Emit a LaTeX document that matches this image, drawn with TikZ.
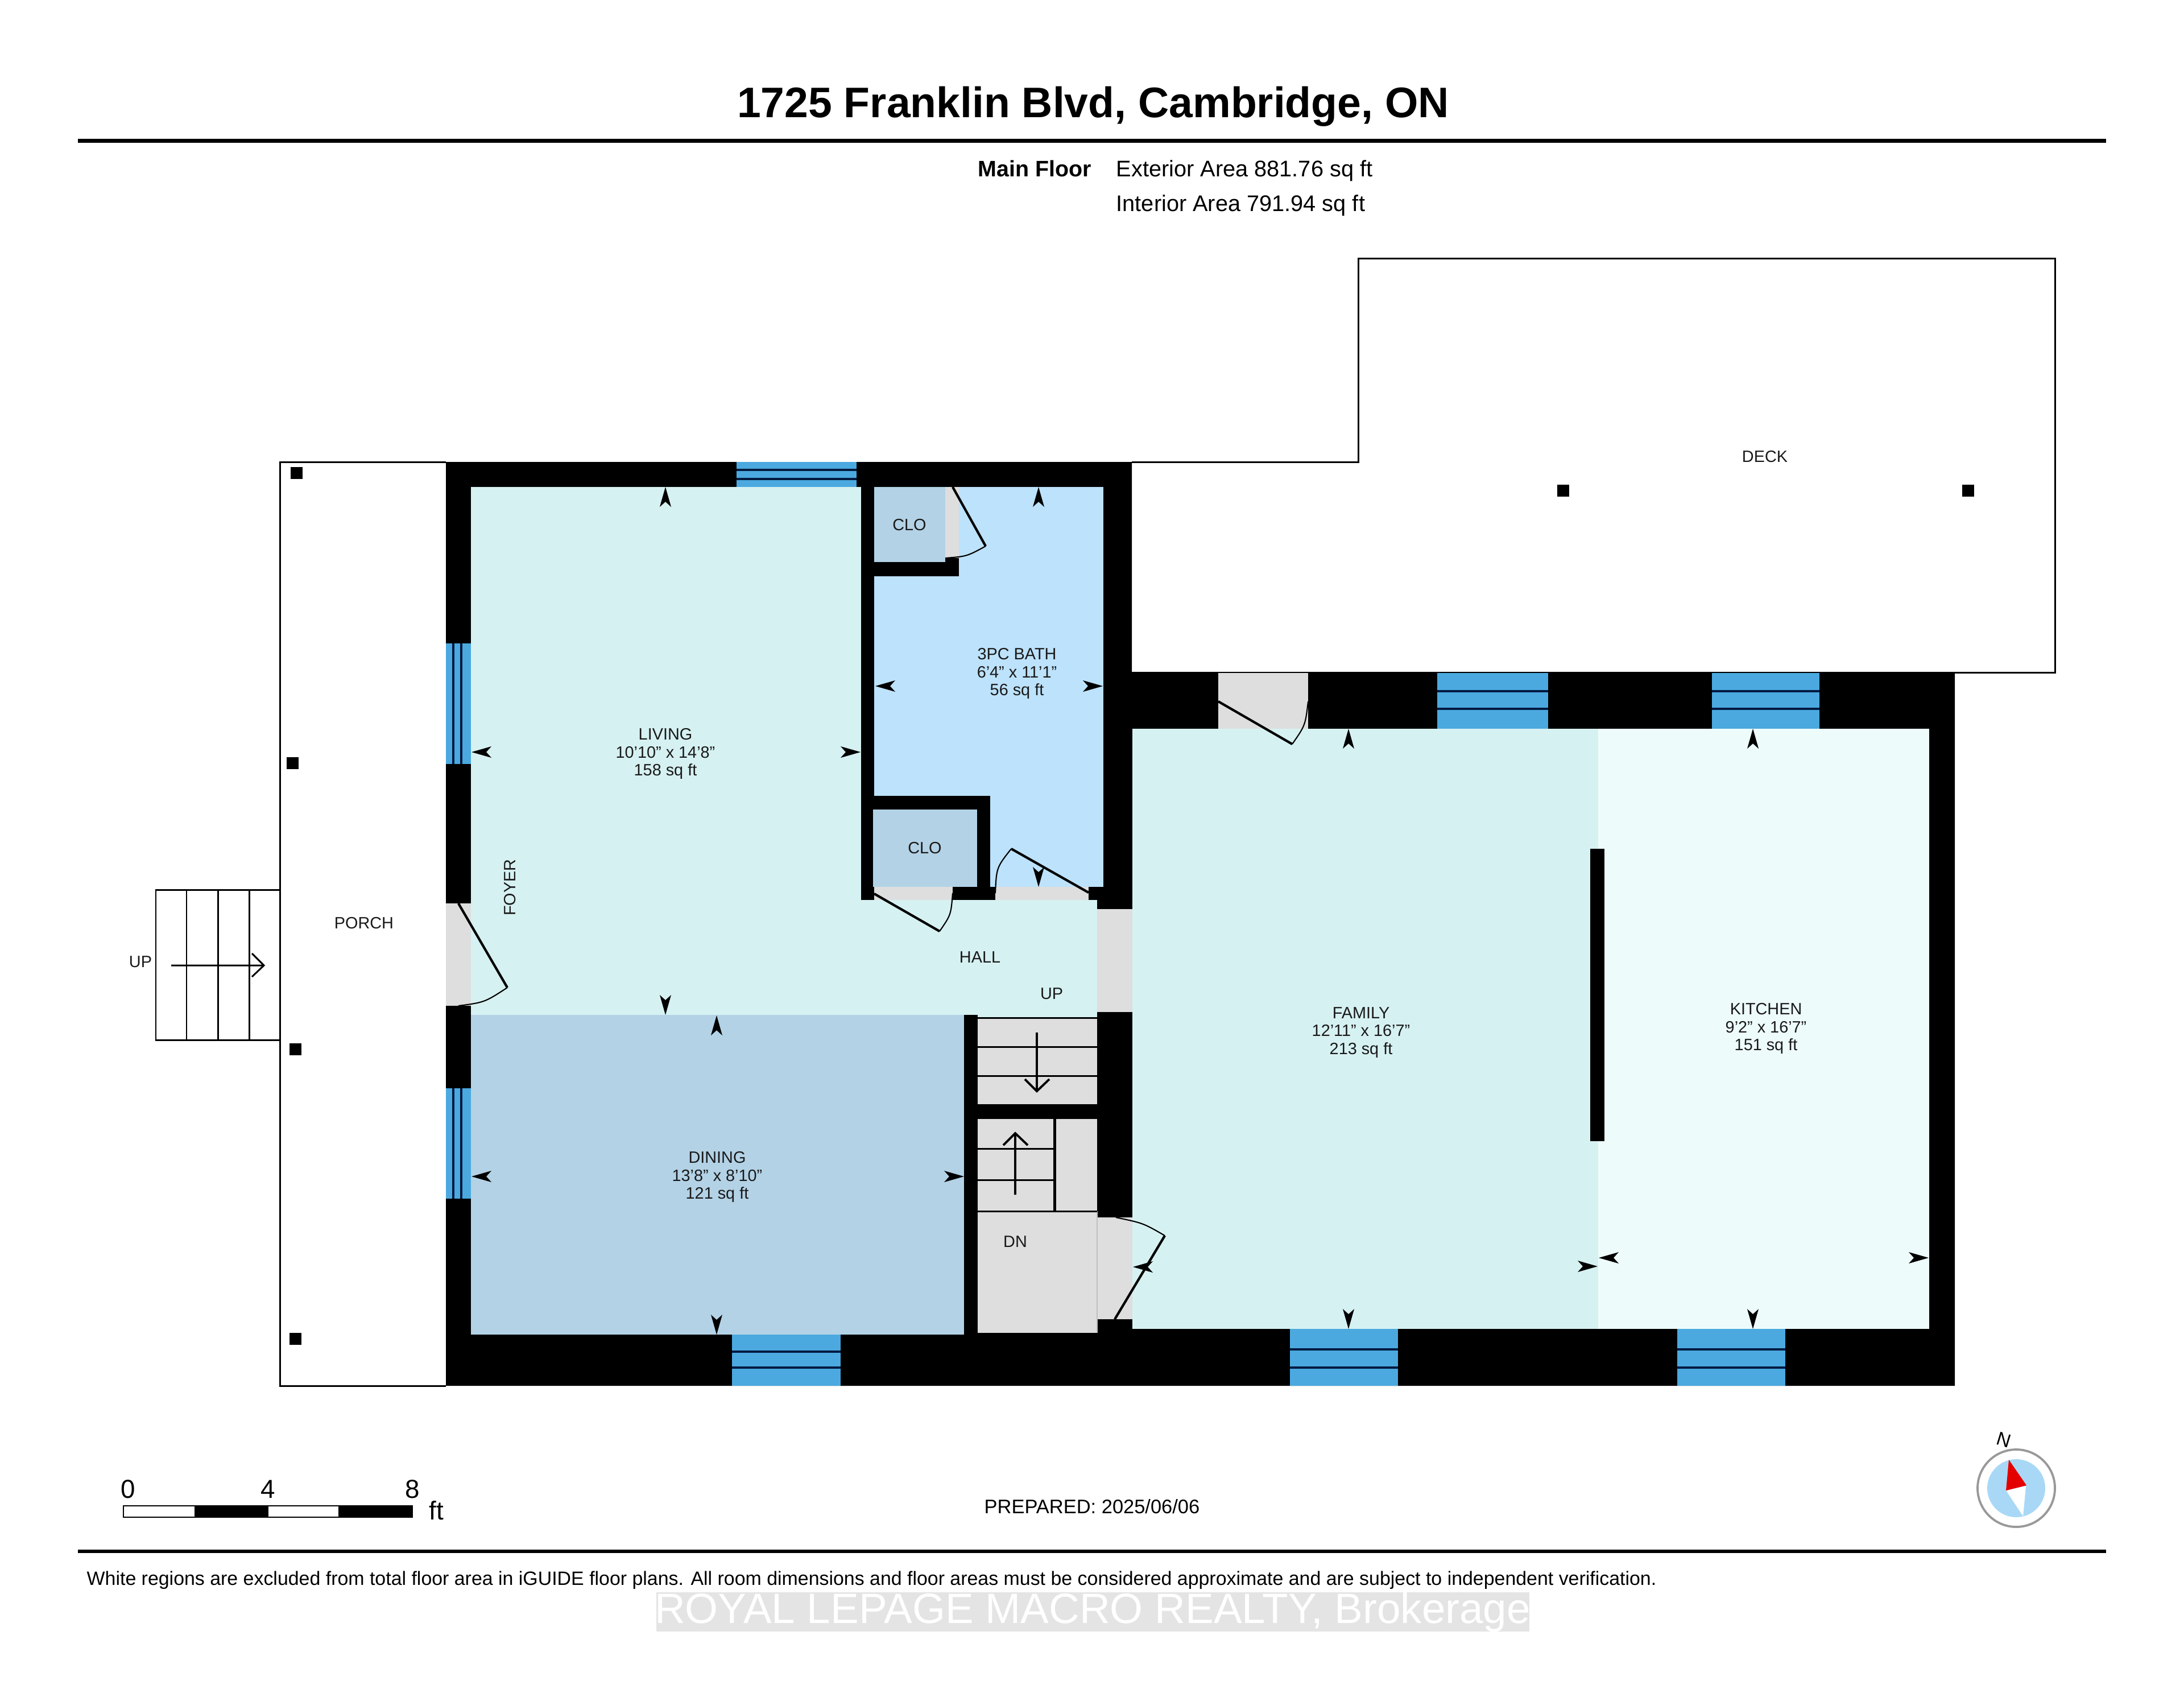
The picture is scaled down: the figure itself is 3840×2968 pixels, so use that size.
\documentclass[tikz,border=0pt]{standalone}
\usepackage{fontspec}
\setmainfont{Liberation Sans}
\definecolor{livc}{HTML}{D6F1F2}
\definecolor{dinc}{HTML}{B3D2E6}
\definecolor{bathc}{HTML}{BDE2FB}
\definecolor{kitc}{HTML}{EDFCFB}
\definecolor{grayc}{HTML}{DEDEDE}
\definecolor{winc}{HTML}{4BA9DF}
\definecolor{glassc}{HTML}{001A40}
\definecolor{compc}{HTML}{A9D8F7}
\definecolor{wmc}{HTML}{E4E4E4}
\newcommand{\dimU}[2]{\fill (#1,#2) -- ++(-10,35) -- ++(10,-9) -- ++(10,9) -- cycle;}
\newcommand{\dimD}[2]{\fill (#1,#2) -- ++(-10,-35) -- ++(10,9) -- ++(10,-9) -- cycle;}
\newcommand{\dimL}[2]{\fill (#1,#2) -- ++(35,-10) -- ++(-9,10) -- ++(9,10) -- cycle;}
\newcommand{\dimR}[2]{\fill (#1,#2) -- ++(-35,-10) -- ++(9,10) -- ++(-9,10) -- cycle;}
\tikzset{
 room/.style={font=\fontsize{8.2}{8.9}\selectfont,align=center,inner sep=0pt,text=black!90},
 thinline/.style={draw=black,line width=0.85pt},
 leaf/.style={draw=black,line width=1.2pt},
 swing/.style={draw=black,line width=0.6pt},
 tread/.style={draw=black,line width=0.85pt},
 glass/.style={draw=glassc,line width=1.1pt},
 post/.style={fill=black,minimum size=21*0.01cm,inner sep=0pt},
 info/.style={font=\fontsize{11.3}{13}\selectfont,anchor=base west,inner sep=0pt},
}
\begin{document}
\begin{tikzpicture}[x=0.01cm,y=-0.01cm]
\useasboundingbox (0,0) rectangle (3840,2968);
% header
\node[font=\bfseries\fontsize{21.35}{24}\selectfont,inner sep=0pt,anchor=base] (title) at (1922,206) {1725 Franklin Blvd, Cambridge, ON};
\draw[line width=2pt] (137,247) -- (3703,247);
\node[info,font=\bfseries\fontsize{11.2}{13}\selectfont] (mainfloor) at (1719,310) {Main Floor};
\node[info] (ext) at (1962,310) {Exterior Area 881.76 sq ft};
\node[info] (int) at (1962,371) {Interior Area 791.94 sq ft};
% deck
\draw[thinline] (1990,812) -- (2388,812) -- (2388,454) -- (3613,454) -- (3613,1182) -- (1990,1182);
\node[room] (deck) at (3103,803) {DECK};
\node[post] (dp1) at (2748,862) {};
\node[post] (dp2) at (3460,862) {};
% porch
\draw[thinline] (784,812) -- (492,812) -- (492,2436) -- (784,2436);
\node[post] (p1) at (521,831) {};
\node[post] (p2) at (514,1341) {};
\node[post] (p3) at (519,1844) {};
\node[post] (p4) at (519,2353) {};
\node[room] (porch) at (640,1623) {PORCH};
% porch stairs
\draw[thinline] (492,1564) -- (274,1564) -- (274,1828) -- (492,1828);
\draw[tread] (328,1564) -- (328,1828) (383,1564) -- (383,1828) (438,1564) -- (438,1828);
\draw[tread] (301,1697) -- (464,1697) (443,1676) -- (464,1697) -- (443,1717);
\node[room] (upa) at (247,1691) {UP};
% walls
\fill[black] (784,812) -- (1990,812) -- (1990,1183) -- (3437,1183) -- (3437,2436) -- (784,2436) -- cycle;
% rooms
\fill[livc] (828,856) rectangle (1514,1784);
\fill[livc] (1514,1582) rectangle (1929,1784);
\fill[livc] (1719,1784) rectangle (1929,1788);
\fill[dinc] (828,1784) rectangle (1695,2346);
\fill[bathc] (1537,856) rectangle (1940,1559);
\fill[livc] (1991,1281) rectangle (2810,2336);
\fill[kitc] (2810,1281) rectangle (3392,2336);
% closet 1
\fill[black] (1537,856) rectangle (1686,1013);
\fill[dinc] (1537,856) rectangle (1662,988);
\fill[grayc] (1662,856) rectangle (1686,981);
% closet 2
\fill[black] (1514,1399) rectangle (1741,1582);
\fill[dinc] (1535,1423) rectangle (1718,1559);
\fill[black] (1741,1559) rectangle (1750,1582);
\fill[black] (1914,1559) rectangle (1940,1582);
\fill[grayc] (1537,1559) rectangle (1675,1582);
\fill[grayc] (1750,1559) rectangle (1914,1582);
% door openings
\fill[grayc] (784,1588) rectangle (828,1768);
\fill[grayc] (1929,1598) rectangle (1991,1779);
\fill[grayc] (1929,2140) rectangle (1991,2319);
\fill[grayc] (2142,1183) rectangle (2300,1281);
% partition
\fill[black] (2796,1492) rectangle (2821,2006);
% windows
\fill[winc] (1295,812) rectangle (1506,856);
\draw[glass] (1295,826) -- (1506,826) (1295,842) -- (1506,842);
\fill[winc] (784,1131) rectangle (828,1343);
\draw[glass] (797,1131) -- (797,1343) (811,1131) -- (811,1343);
\fill[winc] (784,1913) rectangle (828,2107);
\draw[glass] (797,1913) -- (797,2107) (811,1913) -- (811,2107);
\fill[winc] (2527,1183) rectangle (2722,1281);
\draw[glass] (2527,1215) -- (2722,1215) (2527,1246) -- (2722,1246);
\fill[winc] (3010,1183) rectangle (3199,1281);
\draw[glass] (3010,1215) -- (3199,1215) (3010,1246) -- (3199,1246);
\fill[winc] (2268,2336) rectangle (2458,2436);
\draw[glass] (2268,2372) -- (2458,2372) (2268,2404) -- (2458,2404);
\fill[winc] (2949,2336) rectangle (3139,2436);
\draw[glass] (2949,2372) -- (3139,2372) (2949,2404) -- (3139,2404);
\fill[winc] (1287,2346) rectangle (1478,2436);
\draw[glass] (1287,2376) -- (1478,2376) (1287,2404) -- (1478,2404);
% stairs
\fill[grayc] (1719,1790) rectangle (1929,1941);
\draw[tread] (1719,1789) -- (1929,1789) (1719,1840) -- (1929,1840) (1719,1891) -- (1929,1891);
\draw[tread,line width=1.1pt] (1823,1815) -- (1823,1918) (1802,1897) -- (1823,1918) -- (1845,1897);
\fill[grayc] (1719,1967) rectangle (1929,2343);
\draw[black!25,line width=0.5pt] (1929,2129) -- (1929,2343);
\draw[tread] (1719,2019) -- (1854,2019) (1719,2074) -- (1854,2074) (1719,2129) -- (1929,2129);
\draw[tread,line width=1.3pt] (1854.5,1967) -- (1854.5,2129);
\draw[tread,line width=1.1pt] (1785,2100) -- (1785,1992) (1764,2013) -- (1785,1992) -- (1807,2013);
% door leaves
\draw[leaf] (806,1588) -- (892,1736);
\draw[swing] (892,1736) .. controls (852,1762) .. (806,1768);
\draw[leaf] (1675,856) -- (1733,960);
\draw[swing] (1733,960) .. controls (1700,978) .. (1662,981);
\draw[leaf] (1914,1569) -- (1778,1492);
\draw[swing] (1778,1492) .. controls (1752,1525) .. (1750,1570);
\draw[leaf] (1537,1571) -- (1652,1637);
\draw[swing] (1652,1637) .. controls (1672,1608) .. (1675,1570);
\draw[leaf] (2142,1233) -- (2272,1308);
\draw[swing] (2272,1308) .. controls (2295,1275) .. (2300,1233);
\draw[leaf] (1960,2319) -- (2048,2172);
\draw[swing] (2048,2172) .. controls (2010,2150) .. (1962,2140);
% dimension arrows
\dimU{1170}{856} \dimL{829}{1322} \dimR{1513}{1322} \dimD{1170}{1784}
\dimU{1826}{856} \dimL{1539}{1206} \dimR{1939}{1206} \dimD{1826}{1559}
\dimU{1260}{1785} \dimL{829}{2068} \dimR{1695}{2068} \dimD{1260}{2346}
\dimU{2371}{1281} \dimD{2371}{2336} \dimL{1992}{2227} \dimR{2809}{2226}
\dimU{3082}{1281} \dimD{3082}{2336} \dimL{2811}{2211} \dimR{3391}{2211}
% labels
\node[room] (living) at (1170,1325) {LIVING\\10'10" x 14'8"\\158 sq ft};
\node[room] (bath) at (1788,1184) {3PC BATH\\6'4" x 11'1"\\56 sq ft};
\node[room] (dining) at (1261,2069) {DINING\\13'8" x 8'10"\\121 sq ft};
\node[room] (family) at (2393,1815) {FAMILY\\12'11" x 16'7"\\213 sq ft};
\node[room] (kitchen) at (3105,1808) {KITCHEN\\9'2" x 16'7"\\151 sq ft};
\node[room] (clo1) at (1599,923) {CLO};
\node[room] (clo2) at (1626,1491) {CLO};
\node[room] (hall) at (1723,1683) {HALL};
\node[room] (upb) at (1849,1747) {UP};
\node[room] (dn) at (1785,2183) {DN};
\node[room,rotate=90] (foyer) at (897,1560) {FOYER};
% scale bar
\fill[black] (342,2647) rectangle (472,2667);
\fill[black] (595,2647) rectangle (725,2667);
\draw[line width=0.7pt] (217,2647) rectangle (725,2667);
\node[font=\fontsize{13}{15}\selectfont,inner sep=0pt,anchor=base] (s0) at (225,2633) {0};
\node[font=\fontsize{13}{15}\selectfont,inner sep=0pt,anchor=base] (s4) at (471,2633) {4};
\node[font=\fontsize{13}{15}\selectfont,inner sep=0pt,anchor=base] (s8) at (725,2633) {8};
\node[font=\fontsize{13}{15}\selectfont,inner sep=0pt,anchor=base] (sft) at (767,2671) {ft};
\node[font=\fontsize{9.8}{12}\selectfont,inner sep=0pt,anchor=base] (prep) at (1920,2660) {PREPARED: 2025/06/06};
% compass
\fill[white] (3545,2616) circle (68);
\draw[black!40,line width=1.1pt] (3545,2616) circle (68);
\fill[compc] (3545,2616) circle (51);
\fill[white] (3527,2620) -- (3562,2612) -- (3557,2665) -- cycle;
\fill[red!90!black] (3532,2566) -- (3563,2611) -- (3527,2620) -- cycle;
\node[font=\fontsize{9.5}{11}\selectfont,inner sep=0pt,rotate=-17] (north) at (3523,2531) {N};
% footer
\draw[line width=1.8pt] (137,2727) -- (3703,2727);
\node[font=\fontsize{9.64}{11}\selectfont,inner sep=0pt,anchor=base west] (foot) at (152,2786) {White regions are excluded from total floor area in iGUIDE floor plans. All room dimensions and floor areas must be considered approximate and are subject to independent verification.};
\fill[wmc] (1154,2799) rectangle (2689,2868);
\node[font=\fontsize{21.2}{24}\selectfont,inner sep=0pt,anchor=base,text=white] (wm) at (1921,2853) {ROYAL LEPAGE MACRO REALTY, Brokerage};
\end{tikzpicture}
\end{document}
